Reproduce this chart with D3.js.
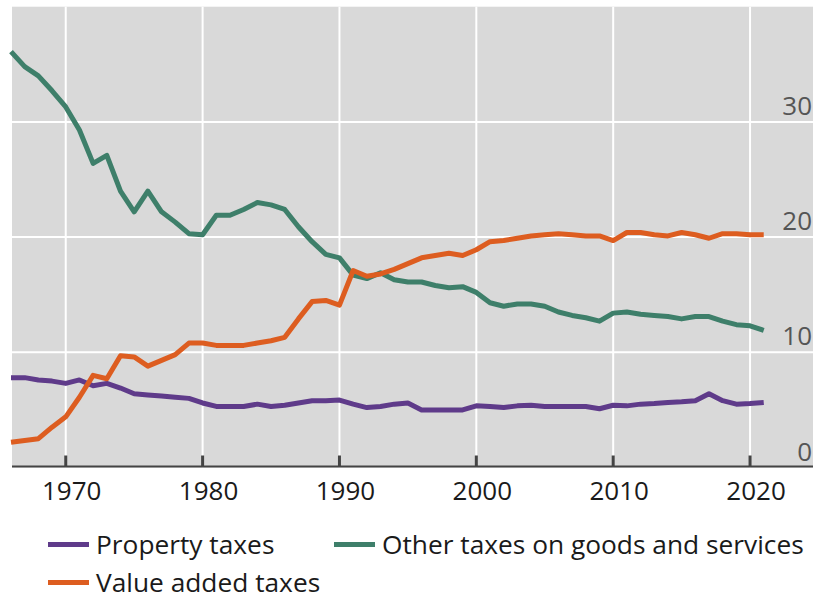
<!DOCTYPE html>
<html>
<head>
<meta charset="utf-8">
<script src="https://cdnjs.cloudflare.com/ajax/libs/d3/7.8.5/d3.min.js"></script>
<style>
  body { margin: 0; background: #fff; }
  text { font-family: "Open Sans", sans-serif; }
</style>
</head>
<body>
<div id="chart"></div>
<script>
var years = d3.range(1966, 2022);

var propertyTaxes = [7.8, 7.8, 7.6, 7.5, 7.3, 7.6, 7.1, 7.3, 6.9, 6.4,
  6.3, 6.2, 6.1, 6.0, 5.6, 5.3, 5.3, 5.3, 5.5, 5.3,
  5.4, 5.6, 5.8, 5.8, 5.85, 5.5, 5.2, 5.3, 5.5, 5.6,
  5.0, 5.0, 5.0, 5.0, 5.35, 5.3, 5.2, 5.35, 5.4, 5.3,
  5.3, 5.3, 5.3, 5.1, 5.4, 5.35, 5.5, 5.55, 5.65, 5.7,
  5.8, 6.4, 5.8, 5.5, 5.55, 5.65];

var otherTaxes = [36.1, 34.8, 34.0, 32.7, 31.3, 29.3, 26.4, 27.1, 24.0, 22.2,
  24.0, 22.2, 21.3, 20.3, 20.2, 21.9, 21.9, 22.4, 23.0, 22.8,
  22.4, 20.9, 19.6, 18.5, 18.2, 16.7, 16.4, 16.9, 16.3, 16.1,
  16.1, 15.8, 15.6, 15.7, 15.2, 14.3, 14.0, 14.2, 14.2, 14.0,
  13.5, 13.2, 13.0, 12.7, 13.4, 13.5, 13.3, 13.2, 13.1, 12.9,
  13.1, 13.1, 12.7, 12.4, 12.3, 11.9];

var valueAdded = [2.2, 2.35, 2.5, 3.5, 4.4, 6.1, 8.0, 7.7, 9.7, 9.6,
  8.8, 9.3, 9.8, 10.8, 10.8, 10.6, 10.6, 10.6, 10.8, 11.0,
  11.3, 12.9, 14.4, 14.5, 14.1, 17.1, 16.6, 16.8, 17.2, 17.7,
  18.2, 18.4, 18.6, 18.4, 18.9, 19.6, 19.7, 19.9, 20.1, 20.2,
  20.3, 20.2, 20.1, 20.1, 19.7, 20.4, 20.4, 20.2, 20.1, 20.4,
  20.2, 19.9, 20.3, 20.3, 20.2, 20.2];

var xTicks = [1970, 1980, 1990, 2000, 2010, 2020];
var yTicks = [0, 10, 20, 30];

var series = [
  { name: 'Property taxes', values: propertyTaxes, color: '#5f3b8a' },
  { name: 'Other taxes on goods and services', values: otherTaxes, color: '#3e7f6a' },
  { name: 'Value added taxes', values: valueAdded, color: '#dd5d20' }
];

var width = 813,
    height = 599;

var plotLeft = 11, plotRight = 813, plotTop = 6.7, plotBottom = 467.5;

var xScale = d3.scaleLinear()
    .domain([1966, 2024.6])
    .range([plotLeft, plotRight]);

var yScale = d3.scaleLinear()
    .domain([0, 40])
    .range([plotBottom, plotTop]);

var svg = d3.select('#chart').append('svg')
    .attr('width', width)
    .attr('height', height);

svg.append('rect')
    .attr('x', plotLeft + 1)
    .attr('y', plotTop)
    .attr('width', plotRight - plotLeft - 1)
    .attr('height', plotBottom - plotTop)
    .style('fill', '#d9d9d9');

// grid
svg.selectAll('.vgrid').data(xTicks)
  .enter().append('line')
    .attr('x1', function(d) { return xScale(d); })
    .attr('x2', function(d) { return xScale(d); })
    .attr('y1', plotTop)
    .attr('y2', plotBottom)
    .style('stroke', '#fff')
    .style('stroke-width', 2);

svg.selectAll('.hgrid').data(yTicks.slice(1))
  .enter().append('line')
    .attr('x1', plotLeft + 1)
    .attr('x2', plotRight)
    .attr('y1', function(d) { return yScale(d); })
    .attr('y2', function(d) { return yScale(d); })
    .style('stroke', '#fff')
    .style('stroke-width', 2);

// y labels sit inside the plot, right aligned
svg.selectAll('.ylab').data(yTicks)
  .enter().append('text')
    .attr('x', 812)
    .attr('y', function(d) { return yScale(d) - 7; })
    .attr('text-anchor', 'end')
    .style('font-size', '26px')
    .style('fill', '#555')
    .text(function(d) { return d; });

// x axis
svg.append('line')
    .attr('x1', plotLeft + 1)
    .attr('x2', plotRight)
    .attr('y1', plotBottom - 1)
    .attr('y2', plotBottom - 1)
    .style('stroke', '#444')
    .style('stroke-width', 2);

svg.selectAll('.xtick').data(xTicks)
  .enter().append('line')
    .attr('x1', function(d) { return xScale(d); })
    .attr('x2', function(d) { return xScale(d); })
    .attr('y1', plotBottom - 12)
    .attr('y2', plotBottom - 1)
    .style('stroke', '#444')
    .style('stroke-width', 3);

svg.selectAll('.xlab').data(xTicks)
  .enter().append('text')
    .attr('x', function(d) { return xScale(d) + 6; })
    .attr('y', 500)
    .attr('text-anchor', 'middle')
    .style('font-size', '26px')
    .style('fill', '#1a1a1a')
    .text(function(d) { return d; });

var line = d3.line()
    .x(function(d, i) { return xScale(years[i]); })
    .y(function(d) { return yScale(d); });

svg.selectAll('.series').data(series)
  .enter().append('path')
    .attr('d', function(d) { return line(d.values); })
    .style('fill', 'none')
    .style('stroke', function(d) { return d.color; })
    .style('stroke-width', 5)
    .style('stroke-linejoin', 'round');

// legend
var legendPos = [[48, 544.5], [334, 544.5], [48, 582.5]];

var legend = svg.selectAll('.legend').data(series)
  .enter().append('g')
    .attr('transform', function(d, i) {
        return 'translate(' + legendPos[i][0] + ',' + legendPos[i][1] + ')';
    });

legend.append('line')
    .attr('x1', 0)
    .attr('x2', 41)
    .style('stroke', function(d) { return d.color; })
    .style('stroke-width', 5);

legend.append('text')
    .attr('x', 48)
    .attr('dy', '0.35em')
    .style('font-size', '26.3px')
    .style('fill', '#1a1a1a')
    .text(function(d) { return d.name; });
</script>
</body>
</html>
